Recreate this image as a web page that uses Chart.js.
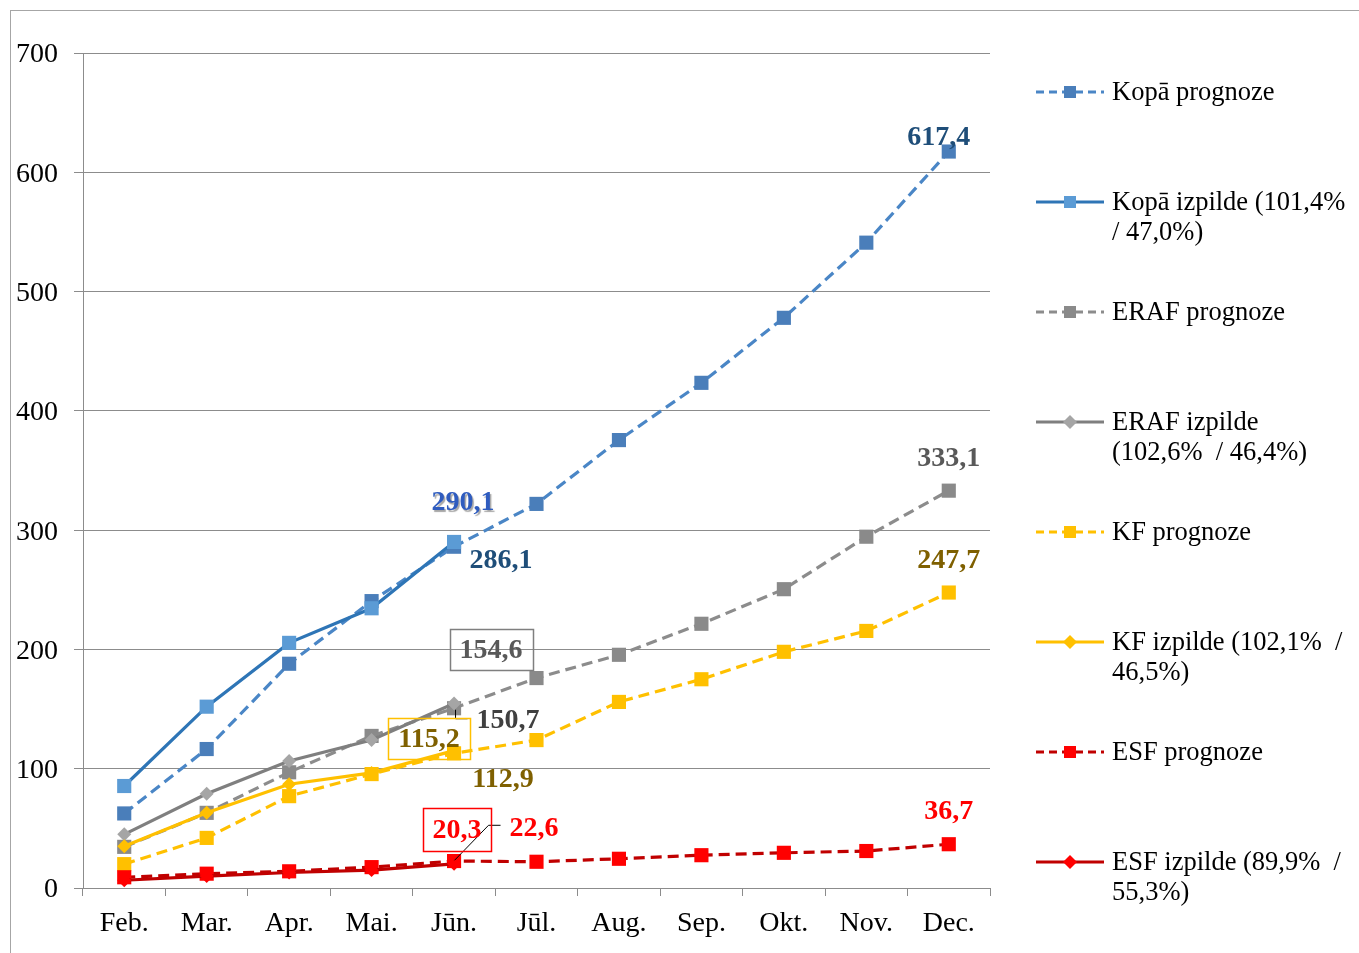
<!DOCTYPE html>
<html>
<head>
<meta charset="utf-8">
<script src="https://cdn.jsdelivr.net/npm/chart.js@4.4.0/dist/chart.umd.min.js"></script>
<style>
  html,body{margin:0;padding:0;background:#fff;overflow:hidden;}
  #wrap{position:absolute;left:0;top:0;width:1359px;height:953px;}
  #frame{position:absolute;left:10px;top:10px;width:1400px;height:1000px;border:1px solid #a6a6a6;box-sizing:border-box;pointer-events:none;}
  canvas{position:absolute;left:0;top:0;}
</style>
</head>
<body>
<div id="wrap">
  <canvas id="c" width="1359" height="953"></canvas>
  <div id="frame"></div>
</div>
<script>
const categories = ['Feb.','Mar.','Apr.','Mai.','Jūn.','Jūl.','Aug.','Sep.','Okt.','Nov.','Dec.'];
const seriesNames = ['Kopā prognoze','Kopā izpilde (101,4% / 47,0%)','ERAF prognoze','ERAF izpilde (102,6% / 46,4%)','KF prognoze','KF izpilde (102,1% / 46,5%)','ESF prognoze','ESF izpilde (89,9% / 55,3%)'];
const legendLines = [['Kopā prognoze'],['Kopā izpilde (101,4%','/ 47,0%)'],['ERAF prognoze'],['ERAF izpilde','(102,6%  / 46,4%)'],['KF prognoze'],['KF izpilde (102,1%  /','46,5%)'],['ESF prognoze'],['ESF izpilde (89,9%  /','55,3%)']];
const kopaPrognoze = [62.5,116.5,188,240.5,286.1,322,375.5,423.5,478,541,617.4];
const kopaIzpilde  = [85.5,152,205.5,234.5,290.1];
const erafPrognoze = [34.5,63,97,127.5,150.7,176,195.5,221.5,250.5,294.5,333.1];
const erafIzpilde  = [45,79,106.5,124,154.6];
const kfPrognoze   = [20,42,77,95.5,112.9,124,156,175,198,215.5,247.7];
const kfIzpilde    = [35,63,87,96.5,115.2];
const esfPrognoze  = [9,12,14,17.5,22.6,22,24.5,27.5,29.5,31,36.7];
const esfIzpilde   = [6.5,10,13,15,20.3];
const yTicks = [0,100,200,300,400,500,600,700];

const FONT = '"Liberation Serif","Times New Roman",serif';
const DASH = [11,6];

const styles = [
  {line:'#4a86c6', pt:'#4a7eba', dash:DASH, shape:'rect', r:10},
  {line:'#2e75b6', pt:'#5b9bd5', dash:[], shape:'rect', r:10},
  {line:'#8c8c8c', pt:'#8a8a8a', dash:DASH, shape:'rect', r:10},
  {line:'#7f7f7f', pt:'#a5a5a5', dash:[], shape:'rectRot', r:7},
  {line:'#ffc000', pt:'#ffc000', dash:DASH, shape:'rect', r:10},
  {line:'#ffc000', pt:'#ffc000', dash:[], shape:'rectRot', r:7},
  {line:'#c00000', pt:'#ff0000', dash:DASH, shape:'rect', r:10},
  {line:'#c00000', pt:'#ff0000', dash:[], shape:'rectRot', r:7},
];
const seriesData = [kopaPrognoze,kopaIzpilde,erafPrognoze,erafIzpilde,kfPrognoze,kfIzpilde,esfPrognoze,esfIzpilde];

const datasets = seriesData.map((d,i)=>({
  label: seriesNames[i],
  data: d,
  borderColor: styles[i].line,
  backgroundColor: styles[i].pt,
  borderWidth: 3.2,
  borderDash: styles[i].dash,
  pointStyle: styles[i].shape,
  pointRadius: styles[i].r,
  pointBackgroundColor: styles[i].pt,
  pointBorderColor: styles[i].pt,
  pointBorderWidth: 0,
  tension: 0,
  fill: false,
  order: seriesData.length - i
}));

const labelSpecs = [
  {ds:0, i:10, color:'#1f4e79', dx:-10, dy:-15},
  {ds:1, i:4,  color:'#2f5cbf', dx:9,   dy:-40, shadow:true},
  {ds:0, i:4,  color:'#1f4e79', dx:47,  dy:13},
  {ds:2, i:10, color:'#595959', dx:0,   dy:-33},
  {ds:3, i:4,  color:'#595959', dx:37,  dy:-54, box:'#7f7f7f', bw:83, bh:41},
  {ds:2, i:4,  color:'#404040', dx:54,  dy:12, leader:[[1,1],[1,10],[13,10]]},
  {ds:4, i:10, color:'#7f6000', dx:0,   dy:-33},
  {ds:5, i:4,  color:'#7f6000', dx:-25, dy:-12, box:'#ffc000', bw:82, bh:41},
  {ds:4, i:4,  color:'#7f6000', dx:49,  dy:25},
  {ds:6, i:10, color:'#ff0000', dx:0,   dy:-33},
  {ds:7, i:4,  color:'#ff0000', dx:3,   dy:-34, box:'#ff0000', bw:68, bh:43},
  {ds:6, i:4,  color:'#ff0000', dx:80,  dy:-33},
];
const leader20 = [[0,-4],[34,-39],[46,-39]];

function fmt(v){ return v.toFixed(1).replace('.',','); }

const labelPlugin = {
  id:'labels',
  afterDatasetsDraw(chart){
    const ctx = chart.ctx, xs = chart.scales.x, ys = chart.scales.y;
    ctx.save();
    ctx.font = 'bold 28px ' + FONT;
    ctx.textAlign = 'center';
    ctx.textBaseline = 'middle';
    labelSpecs.forEach(s=>{
      const v = seriesData[s.ds][s.i];
      const px = xs.getPixelForValue(s.i), py = ys.getPixelForValue(v);
      const cx = px + s.dx, cy = py + s.dy;
      if (s.leader){
        ctx.strokeStyle = '#000'; ctx.lineWidth = 1; ctx.setLineDash([]);
        ctx.beginPath();
        s.leader.forEach((p,k)=>{ const X=px+p[0]+0.5, Y=py+p[1]+0.5; k?ctx.lineTo(X,Y):ctx.moveTo(X,Y); });
        ctx.stroke();
      }
      if (s.ds===7){
        ctx.strokeStyle = '#000'; ctx.lineWidth = 1; ctx.setLineDash([]);
        ctx.beginPath();
        leader20.forEach((p,k)=>{ const X=px+p[0]+0.5, Y=py+p[1]+0.5; k?ctx.lineTo(X,Y):ctx.moveTo(X,Y); });
        ctx.stroke();
      }
      if (s.box){
        ctx.strokeStyle = s.box; ctx.lineWidth = 1.5; ctx.setLineDash([]);
        ctx.strokeRect(Math.round(cx - s.bw/2)+0.5, Math.round(cy - s.bh/2)+0.5, s.bw, s.bh);
      }
      if (s.shadow){
        ctx.shadowColor = 'rgba(0,0,0,0.35)'; ctx.shadowOffsetX = 1.5; ctx.shadowOffsetY = 1.5; ctx.shadowBlur = 1;
      }
      ctx.fillStyle = s.color;
      ctx.fillText(fmt(v), cx, cy + 1);
      ctx.shadowColor = 'transparent'; ctx.shadowOffsetX = 0; ctx.shadowOffsetY = 0; ctx.shadowBlur = 0;
    });
    ctx.restore();
  }
};

const legendPlugin = {
  id:'customLegend',
  afterDraw(chart){
    const ctx = chart.ctx;
    ctx.save();
    const x0 = 1036, x1 = 1104, mx = 1070, tx = 1112;
    ctx.font = '26.5px ' + FONT;
    ctx.textBaseline = 'middle';
    ctx.textAlign = 'left';
    legendLines.forEach((lines,i)=>{
      const y = 92 + i*110;
      const st = styles[i];
      ctx.strokeStyle = st.line; ctx.lineWidth = 3;
      ctx.setLineDash(st.dash.length ? [8,5] : []);
      ctx.beginPath(); ctx.moveTo(x0, y); ctx.lineTo(x1, y); ctx.stroke();
      ctx.setLineDash([]);
      ctx.fillStyle = st.pt;
      if (st.shape === 'rect'){
        ctx.fillRect(mx-6, y-6, 12, 12);
      } else {
        ctx.beginPath(); ctx.moveTo(mx, y-7); ctx.lineTo(mx+7, y); ctx.lineTo(mx, y+7); ctx.lineTo(mx-7, y); ctx.closePath(); ctx.fill();
      }
      ctx.fillStyle = '#000';
      lines.forEach((t,k)=> ctx.fillText(t, tx, y + 1 + k*30));
    });
    ctx.restore();
  }
};

new Chart(document.getElementById('c'), {
  type:'line',
  data:{labels:categories, datasets},
  options:{
    responsive:false,
    animation:false,
    events:[],
    layout:{padding:{left:0, right:369, top:53, bottom:0}},
    plugins:{legend:{display:false}, tooltip:{enabled:false}},
    scales:{
      x:{
        type:'category',
        offset:true,
        grid:{offset:true, drawOnChartArea:false, drawTicks:true, tickLength:8, color:'#8c8c8c', lineWidth:1},
        border:{display:true, color:'#8c8c8c', width:1},
        ticks:{font:{family:FONT, size:28}, color:'#000', padding:11, maxRotation:0, autoSkip:false},
        afterFit(s){ s.height = 65; }
      },
      y:{
        min:0, max:700,
        afterBuildTicks(s){ s.ticks = yTicks.map(v=>({value:v})); },
        grid:{color:'#8c8c8c', lineWidth:1, tickLength:9, drawTicks:true},
        border:{display:true, color:'#8c8c8c', width:1},
        ticks:{font:{family:FONT, size:28}, color:'#000', padding:16, labelOffset:2},
        afterFit(s){ s.width = 83; }
      }
    }
  },
  plugins:[labelPlugin, legendPlugin]
});
</script>
</body>
</html>
